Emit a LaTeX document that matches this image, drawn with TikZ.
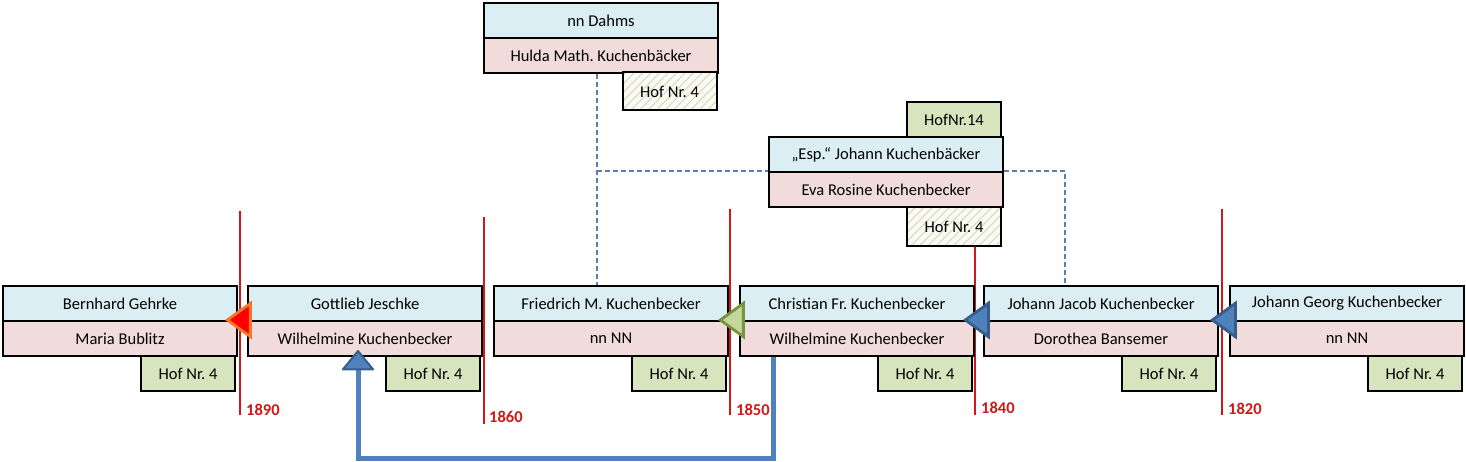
\documentclass[tikz,border=0pt]{standalone}
\usepackage{fontspec}
\setmainfont{Carlito}
\frenchspacing
\usetikzlibrary{arrows.meta,shapes.geometric,patterns.meta}
\definecolor{rowblue}{HTML}{DBEEF4}
\definecolor{rowpink}{HTML}{F2DCDB}
\definecolor{hofgreen}{HTML}{D7E4BD}
\definecolor{hatchbg}{HTML}{FAFAF2}
\definecolor{hatchln}{HTML}{CFD6BC}
\definecolor{yearred}{HTML}{D01818}
\definecolor{dashcol}{HTML}{5A7FA8}
\definecolor{arrblue}{HTML}{4F81BD}
\definecolor{arrblued}{HTML}{385D8A}
\definecolor{trired}{HTML}{FF0000}
\definecolor{triorange}{HTML}{F07828}
\definecolor{trigreen}{HTML}{C3D69B}
\definecolor{trigreend}{HTML}{77933C}
\tikzset{
  cell/.style={draw=black, line width=2pt, minimum width=234pt, minimum height=35pt,
    anchor=north west, inner sep=0pt, font=\fontsize{16.5}{19}\selectfont\frenchspacing, text=black},
  husb/.style={cell, fill=rowblue},
  wife/.style={cell, fill=rowpink},
  hof/.style={cell, fill=hofgreen, minimum width=94pt, anchor=north east},
  hofh/.style={cell, minimum width=94pt, anchor=north east, minimum height=38pt,
    preaction={fill=hatchbg}, pattern={Lines[angle=45,distance=6pt,line width=0.9pt]}, pattern color=hatchln},
  yearline/.style={draw=yearred, line width=1.4pt},
  yearlab/.style={anchor=west, text=yearred, font=\fontsize{16.5}{19}\selectfont\bfseries, inner sep=0pt},
  rel/.style={draw=dashcol, line width=1.5pt, dash pattern=on 5pt off 3pt},
  tri/.style={isosceles triangle, shape border rotate=180, isosceles triangle apex angle=72,
    minimum height=23pt, inner sep=0pt, line width=2.8pt, anchor=apex},
}
\begin{document}
\begin{tikzpicture}[x=1pt,y=-1pt]
\useasboundingbox (0,0) rectangle (1466,461);
% year lines
\coordinate (t1890) at (240,211); \coordinate (b1890) at (240,415);
\coordinate (t1860) at (484,217); \coordinate (b1860) at (484,424);
\coordinate (t1850) at (730,209); \coordinate (b1850) at (730,415);
\coordinate (t1840) at (975,245); \coordinate (b1840) at (975,415);
\coordinate (t1820) at (1222,209); \coordinate (b1820) at (1222,415);
\draw[yearline] (t1890) -- (b1890);
\draw[yearline] (t1860) -- (b1860);
\draw[yearline] (t1850) -- (b1850);
\draw[yearline] (t1840) -- (b1840);
\draw[yearline] (t1820) -- (b1820);
\node[yearlab] (y1890) at (246,410) {1890};
\node[yearlab] (y1860) at (489,417) {1860};
\node[yearlab] (y1850) at (736,410) {1850};
\node[yearlab] (y1840) at (981,408) {1840};
\node[yearlab] (y1820) at (1228,409) {1820};
% top couple
\node[husb] (h0) at (483,2) {nn Dahms};
\node[wife] (w0) at (483,37) {Hulda Math. Kuchenbäcker};
\node[hofh] (f0) at (717,72) {Hof Nr. 4};
% Esp couple
\node[hof] (g7) at (1002,101) {HofNr.14};
\node[husb] (h7) at (768,136) {„Esp.“ Johann Kuchenbäcker};
\node[wife] (w7) at (768,171) {Eva Rosine Kuchenbecker};
\node[hofh, minimum height=39pt] (f7) at (1002,206) {Hof Nr. 4};
% bottom row
\node[husb] (h1) at (2,285) {Bernhard Gehrke};
\node[wife] (w1) at (2,320) {Maria Bublitz};
\node[hof] (f1) at (236,355) {Hof Nr. 4};
\node[husb] (h2) at (247,285) {Gottlieb Jeschke};
\node[wife] (w2) at (247,320) {Wilhelmine Kuchenbecker};
\node[hof] (f2) at (481,355) {Hof Nr. 4};
\node[husb] (h3) at (493,285) {Friedrich M. Kuchenbecker};
\node[wife] (w3) at (493,320) {nn NN};
\node[hof] (f3) at (727,355) {Hof Nr. 4};
\node[husb] (h4) at (739,285) {Christian Fr. Kuchenbecker};
\node[wife] (w4) at (739,320) {Wilhelmine Kuchenbecker};
\node[hof] (f4) at (973,355) {Hof Nr. 4};
\node[husb] (h5) at (983,285) {Johann Jacob Kuchenbecker};
\node[wife] (w5) at (983,320) {Dorothea Bansemer};
\node[hof] (f5) at (1217,355) {Hof Nr. 4};
\node[husb] (h6) at (1229,285) {Johann Georg Kuchenbecker};
\node[wife] (w6) at (1229,320) {nn NN};
\node[hof] (f6) at (1463,355) {Hof Nr. 4};
% dashed relations
\coordinate (dj) at (597,171);
\coordinate (dk) at (1065,171);
\draw[rel] (w0.south -| dj) -- (h3.north -| dj);
\draw[rel] (dj) -- (w7.north west);
\draw[rel] (w7.north east) -- (dk) -- (h5.north -| dk);
% succession triangles
\node[tri, fill=trired, draw=triorange] (a1) at (225,320) {};
\node[tri, fill=trigreen, draw=trigreend] (a2) at (718,320) {};
\node[tri, fill=arrblue, draw=arrblued] (a3) at (963,320) {};
\node[tri, fill=arrblue, draw=arrblued] (a4) at (1210,320) {};
% big arrow
\coordinate (c1) at (773,458);
\coordinate (c2) at (358,458);
\draw[draw=arrblue, line width=5pt,
  -{Triangle[width=34pt,length=21pt,line width=2pt,fill=arrblue,color=arrblued,round]}]
  (w4.south -| c1) -- (c1) -- (c2) -- ([yshift=7pt]w2.south -| c2);
\end{tikzpicture}
\end{document}
